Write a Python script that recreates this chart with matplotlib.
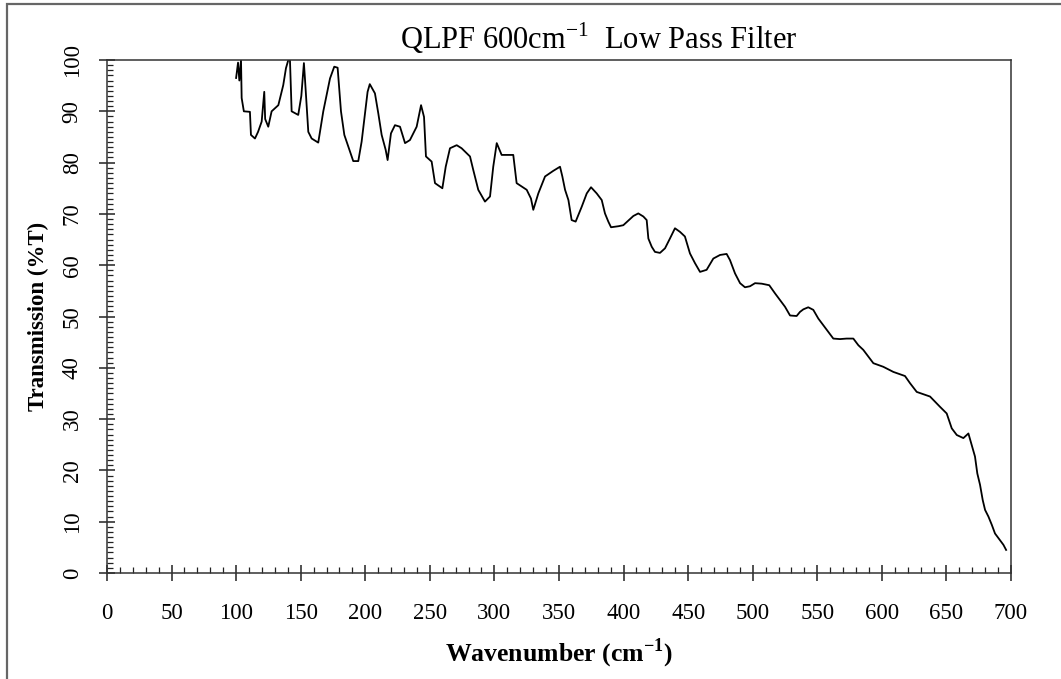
import numpy as np
import matplotlib.pyplot as plt
from matplotlib.patches import Rectangle
from matplotlib.ticker import MultipleLocator

# ------------------------------------------------------------------
# data
# ------------------------------------------------------------------
wavenumber = [
    100.0, 101.5, 102.5, 103.8, 104.3, 106.0, 110.7, 111.5, 114.6, 117.0,
    119.8, 121.8, 122.5, 124.9, 127.5, 132.7, 136.5, 138.6, 140.4, 141.7,
    143.0, 148.1, 150.5, 152.5, 153.3, 155.9, 158.5, 163.6, 167.5, 172.7,
    176.0, 178.6, 181.2, 183.8, 186.9, 190.7, 194.6, 197.2, 201.8, 203.5,
    207.5, 210.1, 212.7, 215.8, 217.3, 219.9, 223.0, 226.9, 230.8, 234.6,
    239.8, 243.2, 245.5, 247.0, 251.4, 254.0, 259.7, 262.3, 265.6, 270.8,
    274.6, 281.1, 283.6, 287.5, 292.7, 296.6, 299.1, 301.8, 305.6, 314.6,
    317.2, 325.0, 328.3, 330.1, 334.0, 339.2, 345.6, 350.8, 352.6, 354.7,
    357.3, 359.8, 362.9, 367.6, 371.5, 374.8, 379.2, 383.1, 385.6, 388.2,
    390.3, 396.0, 399.8, 403.7, 407.6, 411.4, 415.3, 417.9, 419.2, 421.8,
    424.3, 428.2, 432.1, 435.9, 439.8, 443.7, 447.5, 451.4, 455.3, 459.2,
    464.3, 469.5, 474.7, 479.8, 482.4, 486.3, 490.2, 494.0, 497.9, 501.8,
    507.0, 512.8, 517.3, 521.1, 525.0, 528.9, 534.0, 536.6, 539.2, 543.0,
    546.9, 550.8, 554.7, 558.5, 562.4, 567.6, 572.7, 577.9, 581.8, 585.6,
    593.4, 601.1, 608.9, 617.9, 621.8, 627.0, 637.3, 645.0, 650.2, 654.1,
    658.0, 663.1, 667.0, 669.5, 672.1, 673.9, 676.0, 678.1, 679.9, 682.5,
    685.1, 687.6, 691.5, 694.1, 696.2,
]
transmission = [
    96.5, 99.5, 96.0, 100.0, 92.6, 90.0, 89.9, 85.4, 84.7, 86.0,
    88.0, 93.8, 88.5, 87.0, 90.0, 91.2, 95.1, 98.4, 100.0, 100.0,
    90.0, 89.3, 93.0, 99.4, 96.4, 86.0, 84.7, 83.9, 90.0, 96.4,
    98.7, 98.5, 90.0, 85.4, 83.1, 80.3, 80.3, 84.1, 93.8, 95.3,
    93.5, 89.6, 85.4, 82.5, 80.5, 85.7, 87.3, 87.0, 83.8, 84.4,
    87.0, 91.2, 88.9, 81.2, 80.2, 76.0, 75.0, 79.2, 82.8, 83.4,
    82.8, 81.2, 78.6, 74.7, 72.4, 73.4, 79.2, 83.8, 81.5, 81.5,
    76.0, 74.7, 73.0, 70.8, 74.0, 77.3, 78.4, 79.2, 77.3, 74.7,
    72.7, 68.8, 68.5, 71.4, 74.0, 75.2, 74.0, 72.7, 70.1, 68.5,
    67.4, 67.6, 67.8, 68.7, 69.6, 70.1, 69.5, 68.8, 65.2, 63.6,
    62.6, 62.4, 63.3, 65.2, 67.2, 66.5, 65.6, 62.3, 60.4, 58.7,
    59.1, 61.3, 62.0, 62.2, 61.0, 58.4, 56.5, 55.7, 55.9, 56.5,
    56.4, 56.1, 54.5, 53.2, 51.9, 50.2, 50.1, 50.9, 51.4, 51.8,
    51.3, 49.6, 48.3, 47.0, 45.7, 45.6, 45.7, 45.7, 44.4, 43.5,
    40.9, 40.2, 39.2, 38.4, 37.0, 35.3, 34.4, 32.4, 31.1, 28.2,
    26.9, 26.3, 27.2, 25.0, 22.7, 19.4, 17.2, 14.2, 12.3, 11.0,
    9.4, 7.7, 6.4, 5.5, 4.5,
]
x_ticks = list(range(0, 701, 50))
y_ticks = list(range(0, 101, 10))

plt.rcParams['font.family'] = ['Liberation Serif', 'DejaVu Serif']
plt.rcParams['mathtext.fontset'] = 'custom'
plt.rcParams['mathtext.rm'] = 'Liberation Serif'
plt.rcParams['mathtext.bf'] = 'Liberation Serif:bold'

fig = plt.figure(figsize=(10.61, 6.79), dpi=100)
ax = fig.add_axes([0.1008, 0.1561, 0.8521, 0.7555])

ax.plot(wavenumber, transmission, color='black', linewidth=1.3)

ax.set_xlim(0, 700)
ax.set_ylim(0, 100)
ax.set_xticks(x_ticks)
ax.set_yticks(y_ticks)
ax.xaxis.set_minor_locator(MultipleLocator(10))
ax.yaxis.set_minor_locator(MultipleLocator(1))

ax.tick_params(axis='both', which='major', direction='inout', length=11,
               width=1.1, color='#222222', labelsize=16.5)
ax.tick_params(axis='both', which='minor', direction='in', length=4,
               width=0.9, color='#222222')
ax.tick_params(axis='x', which='major', pad=16)
ax.tick_params(axis='y', which='major', pad=12)
ax.tick_params(top=False, right=False, which='both')
for lbl in ax.get_yticklabels():
    lbl.set_rotation(90)
    lbl.set_va('center')

for sp in ax.spines.values():
    sp.set_color('#333333')
    sp.set_linewidth(1.1)

ax.set_xlabel(r'Wavenumber (cm$^{\mathbf{-1}}$)', fontsize=18.5,
              fontweight='bold', labelpad=9)
ax.set_ylabel('Transmission (%T)', fontsize=16.5, fontweight='bold',
              labelpad=9)

fig.text(0.564, 0.944, r'QLPF 600cm$^{-1}$  Low Pass Filter',
         fontsize=22, ha='center', va='center')

# grey frame round the picture
fig.patches.append(Rectangle((7 / 1061, -0.05), 1.2, 1 - 4 / 679 + 0.05,
                             transform=fig.transFigure, fill=False,
                             edgecolor='#666666', linewidth=1.6))

fig.savefig('out.png', dpi=100)
